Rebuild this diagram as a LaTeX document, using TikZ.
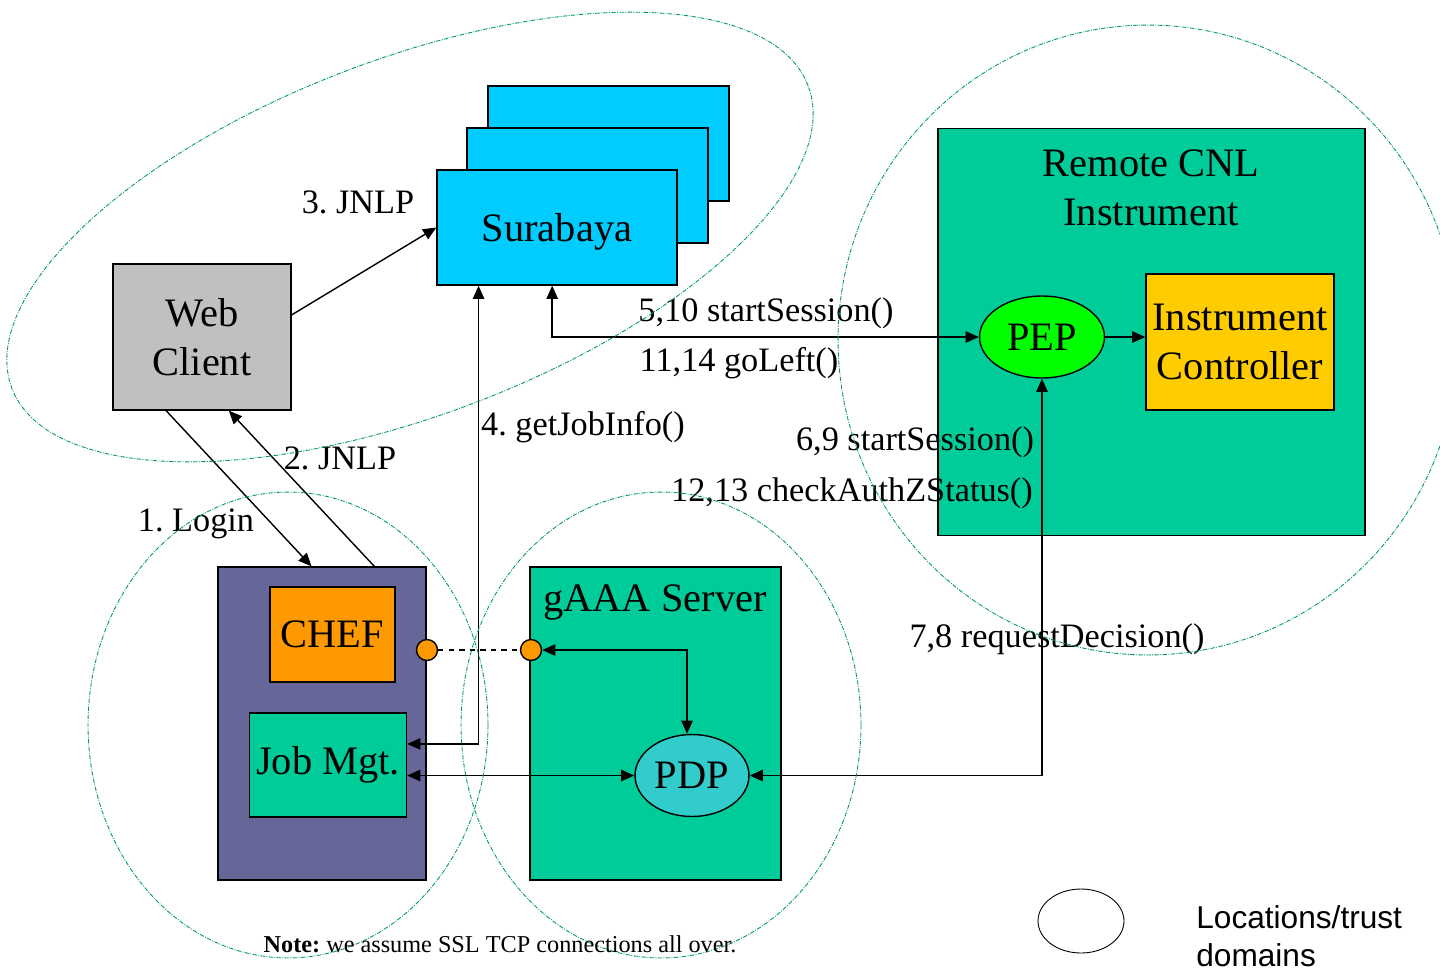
\documentclass[tikz,border=0pt]{standalone}
\usepackage{fontspec}
\setmainfont{Liberation Serif}
\newfontfamily\legendfont{Liberation Sans}
\usepackage{xcolor}
\definecolor{clientgray}{HTML}{C0C0C0}
\definecolor{surabayablue}{HTML}{00CCFF}
\definecolor{servergreen}{HTML}{00CC99}
\definecolor{ctrlgold}{HTML}{FFCC00}
\definecolor{chefpurple}{HTML}{666699}
\definecolor{cheforange}{HTML}{FF9900}
\definecolor{pepgreen}{HTML}{00FF00}
\definecolor{pdpcyan}{HTML}{33CCCC}
\definecolor{zoneline}{HTML}{009966}
\usetikzlibrary{positioning, arrows.meta, shapes.geometric, calc}
\tikzstyle{arrow} = [line width=0.8pt,-{Triangle[length=7.5pt,width=6.5pt]}]
\tikzstyle{twoway} = [line width=0.8pt,{Triangle[length=7.5pt,width=6.5pt]}-{Triangle[length=7.5pt,width=6.5pt]}]
\frenchspacing

\begin{document}
\begin{tikzpicture}[x=0.02cm, y=-0.02cm]
        \tikzstyle{every node}=[font=\fontsize{23}{28}\selectfont]
        \tikzstyle{box} = [rectangle, draw=black, line width=0.8pt, inner sep=0pt, align=center]
        \tikzstyle{blob} = [ellipse, draw=black, line width=0.8pt, inner sep=0pt]
        \tikzstyle{plug} = [circle, draw=black, fill=cheforange, line width=0.8pt, minimum size=0.42cm, inner sep=0pt]
        \tikzstyle{msg} = [font=\fontsize{19.5}{23}\selectfont, inner sep=0pt]
        \tikzstyle{trustzone} = [draw=zoneline, line width=0.5pt, dash pattern=on 2.5pt off 0.8pt on 0.5pt off 0.8pt]

        \useasboundingbox (0,0) rectangle (1440,971);

        % surabaya stack
        \node[box, fill=surabayablue, minimum width=4.82cm, minimum height=2.3cm](sura3) at (608.5,143.5) {};
        \node[box, fill=surabayablue, minimum width=4.82cm, minimum height=2.3cm](sura2) at (587.5,185.5) {};
        \node[box, fill=surabayablue, minimum width=4.8cm, minimum height=2.3cm, text depth=0pt](sura) at (557,227.5) {Surabaya};

        \node[box, fill=clientgray, minimum width=3.56cm, minimum height=2.92cm](web) at (202,337) {Web\\Client};

        % remote instrument
        \node[box, fill=servergreen, minimum width=8.54cm, minimum height=8.14cm](cnl) at (1151.5,332) {};
        \node[align=center](cnltitle) at (1151,188) {Remote CNL\\Instrument};
        \node[blob, fill=pepgreen, minimum width=2.5cm, minimum height=1.64cm](pep) at (1042,337) {PEP};
        \node[box, fill=ctrlgold, minimum width=3.76cm, minimum height=2.72cm](ctrl) at (1240,342) {Instrument\\Controller};

        % portal
        \node[box, fill=chefpurple, minimum width=4.16cm, minimum height=6.26cm](portal) at (322,723.5) {};
        \node[box, fill=cheforange, minimum width=2.5cm, minimum height=1.9cm](chef) at (332.5,634.5) {CHEF};
        \node[box, fill=servergreen, minimum width=3.14cm, minimum height=2.08cm](jobmgt) at (328,765) {Job Mgt.};

        % gaaa server
        \node[box, fill=servergreen, minimum width=5.02cm, minimum height=6.26cm](gaaa) at (655.5,723.5) {};
        \node(gaaatitle) at (655,602) {gAAA Server};
        \node[blob, fill=pdpcyan, minimum width=2.28cm, minimum height=1.64cm](pdp) at (692,775.5) {PDP};

        \node[plug](plugchef) at (427,650) {};
        \node[plug](pluggaaa) at (531,650) {};

        \draw[arrow] ($(web.north east)!0.35!(web.south east)$) -- (sura.west);
        \draw[arrow] ($(web.south west)!0.3!(web.south east)$) -- ($(portal.north west)!0.45!(portal.north east)$);
        \draw[arrow] ($(portal.north west)!0.75!(portal.north east)$) -- ($(web.south west)!0.65!(web.south east)$);
        \draw[twoway] ($(sura.south west)!0.175!(sura.south east)$) |- ($(jobmgt.north east)!0.3!(jobmgt.south east)$);
        \draw[twoway] ($(sura.south west)!0.48!(sura.south east)$) |- (pep.west);
        \draw[arrow] (pep.east) -- (pep.east -| ctrl.west);
        \draw[twoway] (pep.south) |- (pdp.east);
        \draw[twoway] (pdp.west -| jobmgt.east) -- (pdp.west);
        \draw[twoway] (pluggaaa.east) -| ([xshift=-0.1cm]pdp.north);
        \draw[dashed, line width=0.8pt] (plugchef.east) -- (pluggaaa.west);

        % call labels
        \node[msg](m3) at (358,202) {3. JNLP};
        \node[msg](m2) at (340,458) {2. JNLP};
        \node[msg](m1) at (196,524) {1. Login};
        \node[msg](m4) at (583,427) {4. getJobInfo()};
        \node[msg](m5) at (766,313) {5,10 startSession()};
        \node[msg](m11) at (739,363) {11,14 goLeft()};
        \node[msg](m6) at (915,442) {6,9 startSession()};
        \node[msg](m12) at (852,493) {12,13 checkAuthZStatus()};
        \node[msg](m7) at (1057,639) {7,8 requestDecision()};

        % trust domains
        \draw[trustzone, rotate around={20.8:(410,237)}] (410,237) ellipse (8.52cm and 3.56cm);
        \draw[trustzone] (288,725) ellipse (4cm and 4.66cm);
        \draw[trustzone] (661,725) ellipse (4cm and 4.66cm);
        \draw[trustzone] (1148,340) ellipse (6.2cm and 6.3cm);

        \node[font=\fontsize{13.8}{16}\selectfont](note) at (500,944) {\textbf{Note:} we assume SSL TCP connections all over.};

        % legend
        \node[ellipse, draw=black, line width=0.5pt, minimum width=1.72cm, minimum height=1.28cm, inner sep=0pt](legendring) at (1081,921) {};
        \node[anchor=west, align=left, inner sep=0pt, font=\legendfont\fontsize{18}{21.5}\selectfont](legendtext) at (1196,936) {Locations/trust\\domains};
\end{tikzpicture}
\end{document}
